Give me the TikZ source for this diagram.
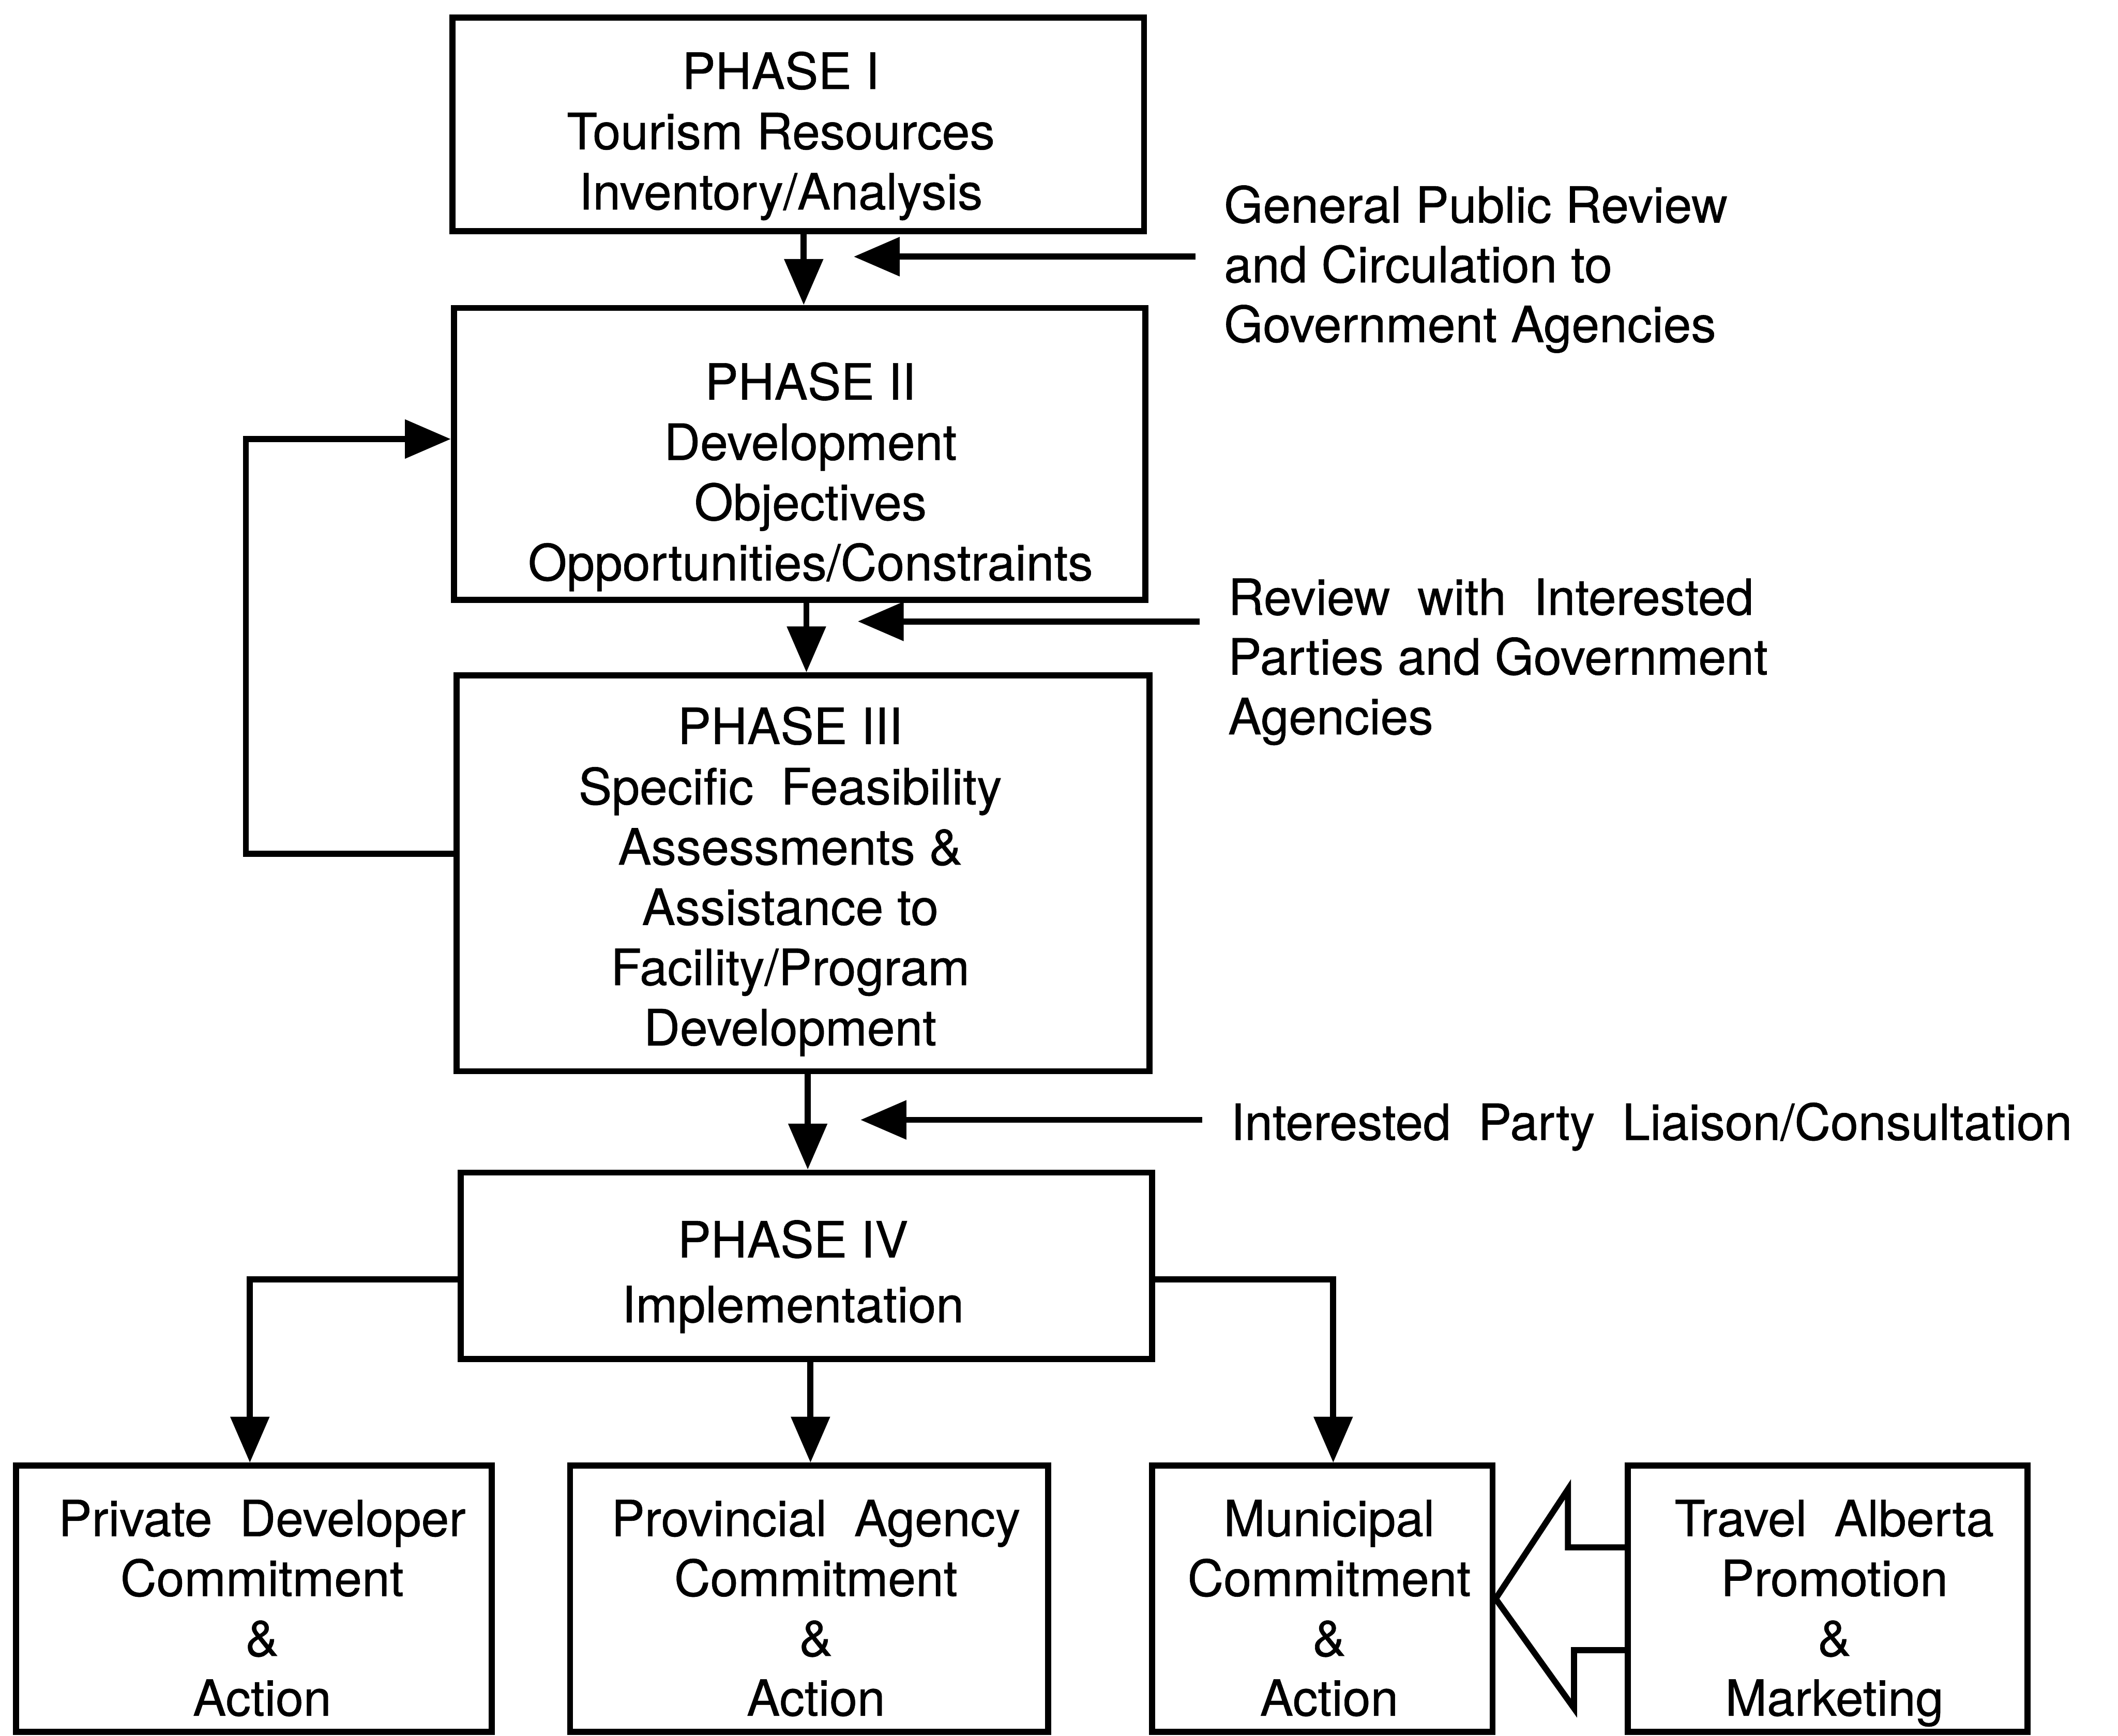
\documentclass[tikz,border=0pt]{standalone}
\usepackage{fontspec}
\setmainfont[FakeBold=0.6]{TeX Gyre Heros}
\usetikzlibrary{arrows.meta}
\newcommand{\widesp}{\hspace{10pt}}
\begin{document}
\begin{tikzpicture}[x=1pt,y=-1pt,
  box/.style={draw, line width=4.5pt, inner sep=0pt, minimum width=#1},
  txt/.style={inner sep=0pt, align=center, anchor=north, font=\fontsize{37}{44.6}\selectfont},
  lbl/.style={inner sep=0pt, align=left, anchor=north west, font=\fontsize{37}{44.2}\selectfont},
  arr/.style={line width=4.5pt, -{Triangle[length=34pt,width=28pt]}},
  hollow/.style={draw, line width=4.5pt, line join=miter}
]
\useasboundingbox (0,0) rectangle (1568,1285);

% phase boxes
\node[box=512pt, minimum height=158pt] (p1) at (591,92) {};
\node[box=512pt, minimum height=216pt] (p2) at (592,336) {};
\node[box=513pt, minimum height=293pt] (p3) at (594.5,646.5) {};
\node[box=512pt, minimum height=138pt] (p4) at (597,937) {};

% bottom boxes
\node[box=352pt, minimum height=197pt] (pa) at (188,1183.5) {};
\node[box=354pt, minimum height=197pt] (pb) at (599,1183.5) {};
\node[box=252pt, minimum height=197pt] (pc) at (979,1183.5) {};
\node[box=296pt, minimum height=197pt] (pd) at (1353,1183.5) {};

% texts
\node[txt] (p1t) at (578,38) {PHASE I\\Tourism Resources\\Inventory/Analysis};
\node[txt] (p2t) at (600,268) {PHASE II\\Development\\Objectives\\Opportunities/Constraints};
\node[txt] (p3t) at (585,523) {PHASE III\\Specific\widesp{} Feasibility\\Assessments \&\\Assistance to\\Facility/Program\\Development};
\node[txt, font=\fontsize{37}{48}\selectfont] (p4t) at (587,903) {PHASE IV\\Implementation};
\node[txt, font=\fontsize{37}{44.3}\selectfont] (pat) at (194,1110) {Private\widesp{} Developer\\Commitment\\\&\\Action};
\node[txt, font=\fontsize{37}{44.3}\selectfont] (pbt) at (604,1110) {Provincial\widesp{} Agency\\Commitment\\\&\\Action};
\node[txt, font=\fontsize{37}{44.3}\selectfont] (pct) at (984,1110) {Municipal\\Commitment\\\&\\Action};
\node[txt, font=\fontsize{37}{44.3}\selectfont] (pdt) at (1358,1110) {Travel\widesp{} Alberta\\Promotion\\\&\\Marketing};

% side labels
\node[lbl] (l1) at (906,137) {General Public Review\\and Circulation to\\Government Agencies};
\node[lbl] (l2) at (909,428) {Review\widesp{} with\widesp{} Interested\\Parties and Government\\Agencies};
\node[lbl] (l3) at (911,816) {Interested\widesp{} Party\widesp{} Liaison/Consultation};

% main flow
\draw[arr] ([xshift=4pt]p1.south) -- ([xshift=4pt]p1.south |- p2.north);
\draw[arr] ([xshift=5pt]p2.south) -- ([xshift=5pt]p2.south |- p3.north);
\draw[arr] ([xshift=3.5pt]p3.south) -- ([xshift=3.5pt]p3.south |- p4.north);

% side input arrows
\coordinate (s1a) at (885,190); \coordinate (s1b) at (632,190);
\coordinate (s2a) at (888,460); \coordinate (s2b) at (635,460);
\coordinate (s3a) at (890,829); \coordinate (s3b) at (637,829);
\draw[arr] (s1a) -- (s1b);
\draw[arr] (s2a) -- (s2b);
\draw[arr] (s3a) -- (s3b);

% feedback loop
\coordinate (fb) at (182,480);
\draw[arr] ([yshift=14.5pt]p3.west) -| (fb) |- ([yshift=11pt]p2.west);

% implementation branches
\draw[arr] ([yshift=-10pt]p4.west) -| ([xshift=-3pt]pa.north);
\draw[arr] ([xshift=3pt]p4.south) -- ([xshift=3pt]p4.south |- pb.north);
\draw[arr] ([yshift=-10pt]p4.east) -| ([xshift=8pt]pc.north);

% hollow arrow from Travel Alberta to Municipal
\draw[hollow] ([yshift=38pt]pd.west) -- ++(-42,0) -- ++(0,-43) -- (pc.east)
  -- ++(58,81) -- ++(0,-43) -- ([yshift=-38pt]pd.west);
\end{tikzpicture}
\end{document}
